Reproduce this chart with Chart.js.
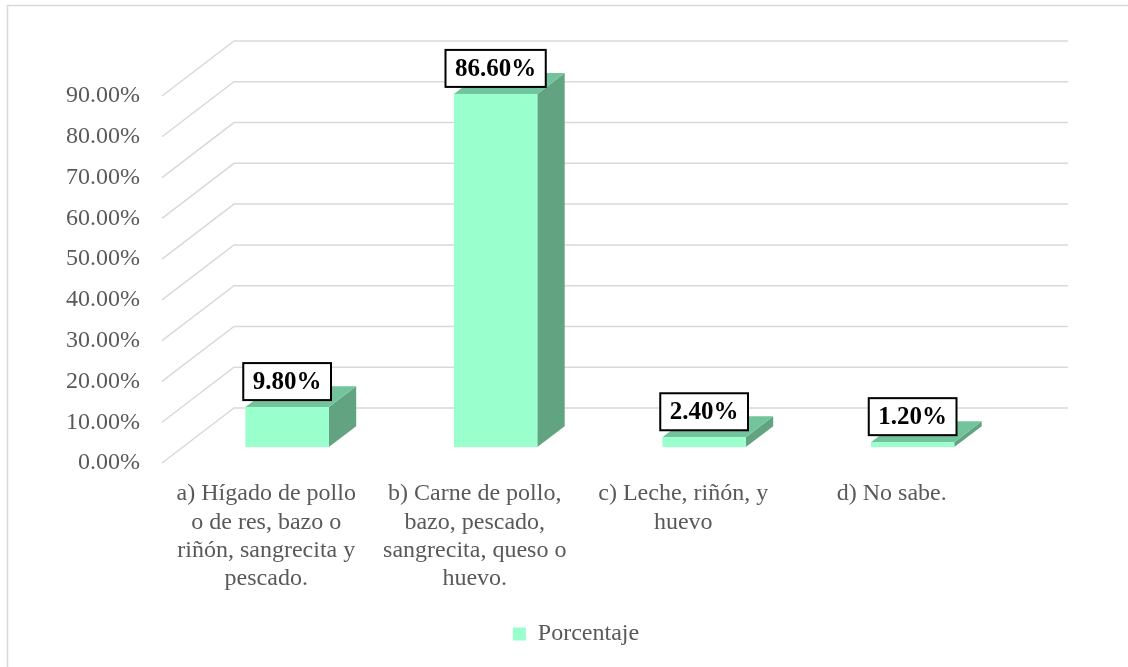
<!DOCTYPE html>
<html>
<head>
<meta charset="utf-8">
<script src="https://cdn.jsdelivr.net/npm/chart.js@4/dist/chart.umd.min.js"></script>
<style>
    html, body { margin: 0; padding: 0; background: #fff; }
    #wrap { width: 1128px; height: 667px; position: relative; }
</style>
</head>
<body>
<div id="wrap"><canvas id="chart" width="1128" height="667"></canvas></div>
<script>
// Data
const categories = [
    ['a) Hígado de pollo', 'o de res, bazo o', 'riñón, sangrecita y', 'pescado.'],
    ['b) Carne de pollo,', 'bazo, pescado,', 'sangrecita, queso o', 'huevo.'],
    ['c) Leche, riñón, y', 'huevo'],
    ['d) No sabe.']
];
const seriesName = 'Porcentaje';
const porcentaje = [9.8, 86.6, 2.4, 1.2];
const yTicks = [0, 10, 20, 30, 40, 50, 60, 70, 80, 90];

// Colors
const FRONT = '#99FFCC';
const TOP = '#72C49C';
const SIDE = '#62A482';
const GRID = '#D9D9D9';
const TEXT = '#595959';
const FONT = "'Liberation Serif', 'Times New Roman', serif";

// 3D look: offset of the back wall, and where the bars sit in the depth
const WALL_DX = 72, WALL_DY = -55;
const BAR_START = 0.29, BAR_DEPTH = 0.38;

const fmtPct = v => v.toFixed(2) + '%';

/**
 * Draws the Excel-like 3D walls, bars and value boxes
 */
const threeD = {
    id: 'threeD',
    beforeDraw(chart) {
        const ctx = chart.ctx;
        // outer chart frame (only left/top visible)
        ctx.save();
        ctx.strokeStyle = GRID;
        ctx.lineWidth = 1.5;
        ctx.strokeRect(7.5, 5.5, 1200, 800);
        ctx.restore();
    },
    beforeDatasetsDraw(chart) {
        const ctx = chart.ctx;
        const area = chart.chartArea;
        const y = chart.scales.y;

        // grid: diagonal on the left side wall + line on back wall
        ctx.save();
        ctx.strokeStyle = GRID;
        ctx.lineWidth = 1.5;
        y.ticks.forEach(t => {
            const py = y.getPixelForValue(t.value);
            ctx.beginPath();
            ctx.moveTo(area.left, py);
            ctx.lineTo(area.left + WALL_DX, py + WALL_DY);
            ctx.lineTo(area.right + WALL_DX, py + WALL_DY);
            ctx.stroke();
        });
        ctx.restore();

        // bars
        const meta = chart.getDatasetMeta(0);
        const sx = WALL_DX * BAR_START, sy = WALL_DY * BAR_START;
        const dx = WALL_DX * BAR_DEPTH, dy = WALL_DY * BAR_DEPTH;
        ctx.save();
        meta.data.forEach((bar, i) => {
            const { x, y: top, base, width } = bar.getProps(['x', 'y', 'base', 'width'], true);
            const L = x - width / 2 + sx, R = x + width / 2 + sx;
            const T = top + sy, B = base + sy;

            ctx.fillStyle = SIDE;
            ctx.beginPath();
            ctx.moveTo(R, T);
            ctx.lineTo(R + dx, T + dy);
            ctx.lineTo(R + dx, B + dy);
            ctx.lineTo(R, B);
            ctx.closePath();
            ctx.fill();

            ctx.fillStyle = TOP;
            ctx.beginPath();
            ctx.moveTo(L, T);
            ctx.lineTo(R, T);
            ctx.lineTo(R + dx, T + dy);
            ctx.lineTo(L + dx, T + dy);
            ctx.closePath();
            ctx.fill();

            ctx.fillStyle = FRONT;
            ctx.fillRect(L, T, R - L, B - T);

            // value box
            const label = fmtPct(porcentaje[i]);
            ctx.font = "bold 25px " + FONT;
            const tw = ctx.measureText(label).width;
            const bw = tw + 19, bh = 37;
            const cx = x + sx;
            const bottom = T - 7;
            ctx.fillStyle = '#fff';
            ctx.fillRect(cx - bw / 2, bottom - bh, bw, bh);
            ctx.strokeStyle = '#000';
            ctx.lineWidth = 2;
            ctx.strokeRect(cx - bw / 2, bottom - bh, bw, bh);
            ctx.fillStyle = '#000';
            ctx.textAlign = 'center';
            ctx.textBaseline = 'middle';
            ctx.fillText(label, cx, bottom - bh / 2 + 1);
        });
        ctx.restore();
        return false; // native bars are replaced by the 3D ones
    }
};

new Chart(document.getElementById('chart'), {
    type: 'bar',
    data: {
        labels: categories,
        datasets: [{
            label: seriesName,
            data: porcentaje,
            backgroundColor: FRONT,
            borderWidth: 0,
            categoryPercentage: 1,
            barPercentage: 0.4
        }]
    },
    options: {
        responsive: false,
        animation: false,
        layout: { padding: { top: 96, left: 24, right: 0, bottom: 11 } },
        plugins: {
            legend: {
                position: 'bottom',
                labels: {
                    boxWidth: 13,
                    boxHeight: 13,
                    padding: 10,
                    color: TEXT,
                    font: { family: FONT, size: 24 }
                }
            },
            tooltip: { enabled: false }
        },
        scales: {
            x: {
                grid: { display: false, drawTicks: false },
                border: { display: false },
                ticks: {
                    color: TEXT,
                    padding: 17,
                    maxRotation: 0,
                    autoSkip: false,
                    font: { family: FONT, size: 24, lineHeight: 1.18 }
                },
                afterFit: scale => { scale.height = 149; }
            },
            y: {
                min: 0,
                max: 90,
                grid: { display: false, drawTicks: false },
                border: { display: false },
                afterBuildTicks: scale => { scale.ticks = yTicks.map(v => ({ value: v })); },
                ticks: {
                    color: TEXT,
                    padding: 22,
                    font: { family: FONT, size: 24 },
                    callback: v => fmtPct(v)
                },
                afterFit: scale => { scale.width = 138; }
            },
            // empty right-hand axis: leaves room for the 3D back wall
            yRight: {
                type: 'linear',
                position: 'right',
                grid: { display: false, drawTicks: false },
                border: { display: false },
                ticks: { display: false },
                afterFit: scale => { scale.width = 132; }
            }
        }
    },
    plugins: [threeD]
});
</script>
</body>
</html>
